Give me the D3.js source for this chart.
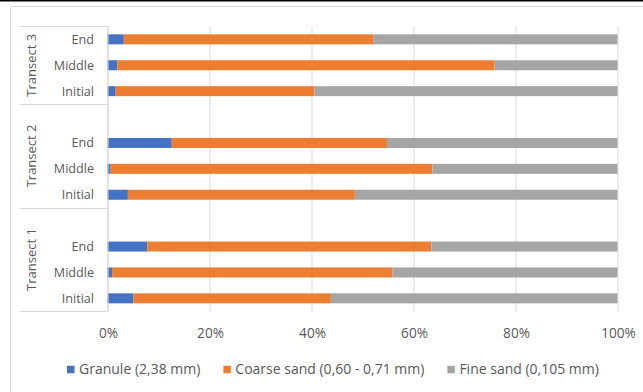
<!DOCTYPE html>
<html>
<head>
<meta charset="utf-8">
<script src="https://cdn.jsdelivr.net/npm/d3@7"></script>
<style>
  html, body { margin: 0; padding: 0; background: #fff; }
  svg { display: block; font-family: "Open Sans", "Segoe UI", sans-serif; }
</style>
</head>
<body>
<svg id="chart" width="643" height="392"></svg>
<script>
// Grain-size composition (%) per transect and sampling stage
const transects = ["Transect 3", "Transect 2", "Transect 1"];
const stages = ["End", "Middle", "Initial"];
// Values listed top to bottom: T3 End, Middle, Initial, T2 End, Middle, Initial, T1 End, Middle, Initial
const granule = [3.2, 1.9, 1.6, 12.6, 0.6, 4.0, 7.8, 0.9, 5.1];
const coarseSand = [49.0, 74.0, 39.0, 42.2, 63.1, 44.5, 55.7, 55.0, 38.7];
const fineSand = [47.8, 24.1, 59.4, 45.2, 36.3, 51.5, 36.5, 44.1, 56.2];
const seriesNames = ["Granule (2,38 mm)", "Coarse sand (0,60 - 0,71 mm)", "Fine sand (0,105 mm)"];
const seriesColors = ["#4472C4", "#ED7D31", "#A5A5A5"];
const xTicks = [0, 20, 40, 60, 80, 100];

const svg = d3.select("#chart");
const W = 643, H = 392;
const textColor = "#595959";
const lineColor = "#D9D9D9";

// Frame
svg.append("rect").attr("x", 0).attr("y", 0).attr("width", W).attr("height", 1.5).attr("fill", "#000");
svg.append("path")
  .attr("d", `M10.5,${H} L10.5,6.5 L${W},6.5`)
  .attr("fill", "none").attr("stroke", lineColor).attr("stroke-width", 1);

// Category slots: each transect gets a blank spacer row except the first
const rows = [];
transects.forEach((t, ti) => {
  if (ti > 0) rows.push({ key: "gap" + ti, transect: t, blank: true });
  stages.forEach((s, si) => {
    const i = ti * stages.length + si;
    rows.push({ key: t + "|" + s, transect: t, stage: s, values: [granule[i], coarseSand[i], fineSand[i]] });
  });
});

const plotLeft = 107.5, plotRight = 617.5, plotTop = 26.4, plotBottom = 311.3;
const x = d3.scaleLinear().domain([0, 100]).range([plotLeft, plotRight]);
const y = d3.scaleBand().domain(rows.map(r => r.key)).range([plotTop, plotBottom])
  .paddingInner(0.614).paddingOuter(0.307);

// Gridlines
svg.append("g").selectAll("line").data(xTicks).join("line")
  .attr("x1", d => x(d) + 0.5).attr("x2", d => x(d) + 0.5)
  .attr("y1", plotTop).attr("y2", plotBottom)
  .attr("stroke", lineColor).attr("stroke-width", 1);

// X axis tick labels
const xAxis = d3.axisBottom(x).tickValues(xTicks).tickFormat(d => d + "%").tickSize(0).tickPadding(0);
const gx = svg.append("g").attr("transform", `translate(0.5, 333.5)`).call(xAxis);
gx.select(".domain").remove();
gx.selectAll("text").attr("fill", textColor).attr("font-size", 13.6)
  .attr("font-family", "Open Sans").attr("dy", "0.35em").attr("y", 0);

// Stacked bars
const stackRows = rows.filter(r => !r.blank);
const barG = svg.append("g");
stackRows.forEach(r => {
  let acc = 0;
  r.values.forEach((v, si) => {
    barG.append("rect")
      .attr("x", x(acc)).attr("width", x(acc + v) - x(acc))
      .attr("y", y(r.key)).attr("height", y.bandwidth())
      .attr("fill", seriesColors[si]);
    acc += v;
  });
});

// Multi-level category axis
const axisG = svg.append("g");
axisG.append("line").attr("x1", plotLeft + 0.5).attr("x2", plotLeft + 0.5)
  .attr("y1", plotTop).attr("y2", plotBottom).attr("stroke", lineColor);

const step = y.step();
const groupBounds = transects.map(t => {
  const rs = rows.filter(r => r.transect === t);
  const top = y(rs[0].key) - y.paddingInner() * step / 2;
  const bottom = y(rs[rs.length - 1].key) + y.bandwidth() + y.paddingInner() * step / 2;
  return { t, top, bottom };
});
const sepYs = [plotTop, ...groupBounds.map(g => g.bottom)];
axisG.selectAll("line.sep").data(sepYs).join("line").attr("class", "sep")
  .attr("x1", 20).attr("x2", plotLeft + 0.5)
  .attr("y1", d => Math.round(d) + 0.5).attr("y2", d => Math.round(d) + 0.5)
  .attr("stroke", lineColor);

axisG.selectAll("text.stage").data(stackRows).join("text").attr("class", "stage")
  .attr("x", 94).attr("y", r => y(r.key) + y.bandwidth() / 2)
  .attr("dy", "0.35em").attr("text-anchor", "end")
  .attr("fill", textColor).attr("font-size", 12.6).text(r => r.stage);

axisG.selectAll("text.group").data(groupBounds).join("text").attr("class", "group")
  .attr("transform", g => `translate(31, ${(g.top + g.bottom) / 2}) rotate(-90)`)
  .attr("dy", "0.35em").attr("text-anchor", "middle")
  .attr("fill", textColor).attr("font-size", 13).text(g => g.t);

// Legend
const legend = svg.append("g").attr("transform", "translate(67, 369.5)");
let lx = 0;
seriesNames.forEach((name, i) => {
  const item = legend.append("g").attr("transform", `translate(${lx}, 0)`);
  item.append("rect").attr("x", 0).attr("y", -3.75).attr("width", 7.5).attr("height", 7.5).attr("fill", seriesColors[i]);
  const txt = item.append("text").attr("x", 12).attr("dy", "0.35em")
    .attr("fill", textColor).attr("font-size", 14).text(name);
  lx += 12 + txt.node().getComputedTextLength() + 23;
});
</script>
</body>
</html>
